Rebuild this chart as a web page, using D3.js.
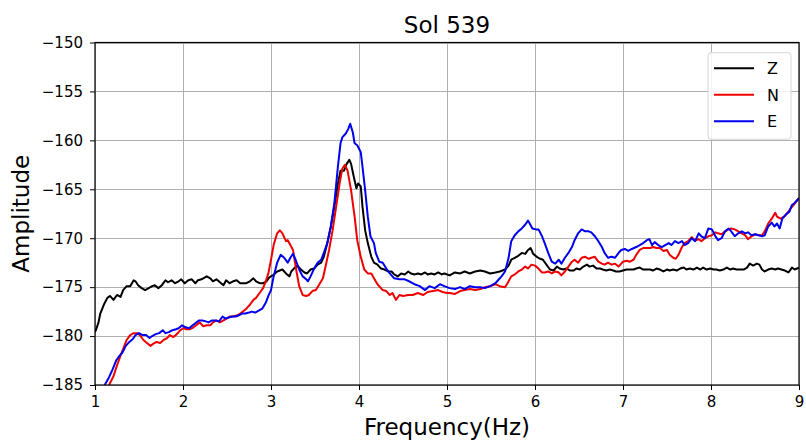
<!DOCTYPE html>
<html>
<head>
<meta charset="utf-8">
<script src="https://cdn.jsdelivr.net/npm/d3@7"></script>
<style>
  body { margin: 0; background: #fff; }
  svg { display: block; font-family: "DejaVu Sans", sans-serif; }
</style>
</head>
<body>
<svg id="chart" width="806" height="447"></svg>
<script>
// ---- data ----
const title = "Sol 539";
const xLabel = "Frequency(Hz)";
const yLabel = "Amplitude";
const xTicks = [1, 2, 3, 4, 5, 6, 7, 8, 9];
const yTicks = [-185, -180, -175, -170, -165, -160, -155, -150];
const seriesNames = ["Z", "N", "E"];
const seriesColors = ["#000000", "#ee0000", "#0000ee"];

const seriesZ = [
[1.00,-179.6],[1.01,-179.4],[1.04,-178.6],[1.06,-177.7],[1.10,-176.8],[1.14,-176.1],[1.17,-175.9],[1.21,-176.3],
[1.25,-175.8],[1.29,-176.0],[1.32,-175.3],[1.36,-174.9],[1.40,-174.9],[1.44,-174.3],[1.46,-174.4],[1.49,-174.8],
[1.53,-175.1],[1.57,-175.3],[1.61,-175.1],[1.65,-174.9],[1.68,-174.8],[1.72,-175.1],[1.76,-174.8],[1.80,-174.3],
[1.83,-174.5],[1.87,-174.3],[1.91,-174.6],[1.95,-174.4],[1.98,-174.2],[2.02,-174.6],[2.06,-174.3],[2.10,-174.2],
[2.14,-174.6],[2.17,-174.3],[2.21,-174.2],[2.27,-173.9],[2.31,-174.1],[2.34,-174.4],[2.38,-174.2],[2.42,-174.5],
[2.46,-174.8],[2.49,-174.3],[2.53,-174.6],[2.57,-174.4],[2.61,-174.3],[2.65,-174.6],[2.68,-174.6],[2.72,-174.6],
[2.76,-174.4],[2.80,-174.1],[2.83,-174.4],[2.87,-174.6],[2.91,-174.6],[2.95,-174.4],[2.98,-174.0],[3.02,-173.8],
[3.07,-173.4],[3.13,-173.2],[3.17,-173.6],[3.21,-173.9],[3.23,-173.4],[3.26,-173.1],[3.30,-172.8],[3.34,-173.2],
[3.38,-173.5],[3.41,-173.6],[3.45,-173.2],[3.49,-173.1],[3.53,-172.7],[3.57,-172.5],[3.60,-171.9],[3.64,-170.5],
[3.68,-168.8],[3.72,-166.8],[3.76,-164.4],[3.79,-163.1],[3.83,-163.1],[3.86,-162.4],[3.89,-162.0],[3.91,-162.4],
[3.94,-163.7],[3.97,-164.9],[3.99,-164.4],[4.02,-164.7],[4.04,-166.8],[4.07,-169.2],[4.10,-170.5],[4.14,-171.9],
[4.17,-172.5],[4.21,-172.7],[4.25,-173.1],[4.29,-173.2],[4.33,-173.4],[4.37,-173.4],[4.40,-173.7],[4.44,-173.9],
[4.48,-173.6],[4.52,-173.7],[4.56,-173.4],[4.59,-173.6],[4.63,-173.7],[4.67,-173.6],[4.71,-173.7],[4.75,-173.5],
[4.78,-173.7],[4.82,-173.6],[4.86,-173.7],[4.90,-173.5],[4.94,-173.7],[4.97,-173.6],[5.03,-173.8],[5.09,-173.5],
[5.15,-173.6],[5.20,-173.4],[5.26,-173.6],[5.32,-173.4],[5.38,-173.3],[5.43,-173.4],[5.49,-173.6],[5.55,-173.5],
[5.60,-173.4],[5.66,-173.2],[5.70,-172.8],[5.73,-172.2],[5.77,-172.0],[5.81,-171.8],[5.85,-171.5],[5.89,-171.6],
[5.92,-171.2],[5.95,-171.0],[5.98,-171.6],[6.02,-171.9],[6.06,-172.1],[6.09,-172.2],[6.13,-172.7],[6.17,-173.2],
[6.21,-173.3],[6.25,-172.9],[6.28,-173.1],[6.32,-173.2],[6.36,-173.1],[6.40,-173.3],[6.44,-173.3],[6.47,-173.1],
[6.51,-173.2],[6.55,-172.9],[6.59,-172.7],[6.62,-172.9],[6.66,-172.8],[6.70,-173.1],[6.74,-173.1],[6.77,-173.2],
[6.81,-173.3],[6.85,-173.2],[6.89,-173.3],[6.92,-173.4],[6.96,-173.4],[7.00,-173.3],[7.04,-173.2],[7.08,-173.2],
[7.12,-173.2],[7.15,-173.1],[7.19,-173.0],[7.23,-173.2],[7.27,-173.2],[7.31,-173.2],[7.34,-173.3],[7.38,-173.1],
[7.42,-173.2],[7.46,-173.4],[7.50,-173.2],[7.53,-173.3],[7.57,-173.2],[7.61,-173.3],[7.65,-173.1],[7.69,-173.0],
[7.72,-173.2],[7.76,-173.1],[7.80,-173.2],[7.84,-173.0],[7.88,-173.2],[7.91,-173.0],[7.95,-173.2],[7.99,-173.1],
[8.03,-173.2],[8.06,-173.2],[8.10,-173.3],[8.14,-173.2],[8.18,-173.0],[8.22,-173.2],[8.25,-173.1],[8.29,-173.2],
[8.33,-173.2],[8.37,-173.2],[8.41,-173.0],[8.44,-172.6],[8.48,-172.8],[8.52,-172.6],[8.55,-172.7],[8.58,-173.2],
[8.61,-173.4],[8.65,-173.2],[8.69,-173.1],[8.73,-173.2],[8.76,-173.1],[8.80,-173.2],[8.84,-173.3],[8.88,-173.5],
[8.92,-173.0],[8.95,-173.2],[9.00,-173.0]
];

const seriesN = [
[1.16,-185.0],[1.21,-184.1],[1.25,-183.0],[1.29,-182.0],[1.32,-181.3],[1.36,-180.4],[1.40,-179.9],[1.44,-179.7],
[1.48,-179.7],[1.51,-179.9],[1.55,-180.4],[1.59,-180.7],[1.63,-181.0],[1.66,-180.8],[1.70,-180.6],[1.74,-180.7],
[1.78,-180.4],[1.82,-180.2],[1.85,-179.9],[1.89,-180.1],[1.93,-179.8],[1.97,-179.4],[2.00,-179.2],[2.04,-179.3],
[2.08,-179.3],[2.12,-179.1],[2.15,-178.9],[2.19,-178.6],[2.23,-179.0],[2.27,-178.9],[2.31,-178.9],[2.34,-178.6],
[2.38,-178.4],[2.42,-178.6],[2.46,-178.4],[2.50,-178.2],[2.53,-178.0],[2.57,-178.0],[2.61,-177.9],[2.65,-177.7],
[2.68,-177.5],[2.72,-177.2],[2.76,-176.8],[2.80,-176.3],[2.83,-176.1],[2.87,-175.6],[2.91,-175.1],[2.94,-174.4],
[2.97,-173.6],[3.00,-172.2],[3.03,-170.7],[3.07,-169.5],[3.10,-169.2],[3.13,-169.5],[3.17,-170.3],[3.19,-170.2],
[3.22,-170.7],[3.25,-171.2],[3.28,-172.9],[3.32,-174.9],[3.36,-175.8],[3.40,-175.9],[3.43,-175.8],[3.47,-175.4],
[3.51,-175.3],[3.55,-174.7],[3.59,-174.1],[3.62,-172.9],[3.66,-171.2],[3.70,-169.2],[3.74,-166.8],[3.78,-164.4],
[3.81,-162.9],[3.84,-162.5],[3.87,-163.1],[3.91,-165.1],[3.95,-167.8],[3.98,-170.2],[4.02,-171.9],[4.06,-173.2],
[4.10,-173.6],[4.14,-173.6],[4.17,-174.1],[4.21,-174.7],[4.27,-175.3],[4.31,-175.4],[4.35,-175.8],[4.38,-175.6],
[4.42,-176.3],[4.46,-175.8],[4.50,-175.9],[4.56,-175.8],[4.61,-175.8],[4.67,-175.6],[4.73,-175.8],[4.78,-175.5],
[4.84,-175.4],[4.90,-175.3],[4.95,-175.5],[5.00,-175.6],[5.03,-175.6],[5.09,-175.7],[5.15,-175.4],[5.20,-175.3],
[5.26,-175.2],[5.32,-175.3],[5.38,-175.2],[5.43,-175.0],[5.49,-174.9],[5.55,-174.7],[5.60,-174.9],[5.66,-175.0],
[5.70,-174.4],[5.73,-173.9],[5.77,-173.7],[5.81,-173.4],[5.85,-173.2],[5.89,-172.9],[5.92,-173.1],[5.96,-172.7],
[6.00,-172.8],[6.04,-173.1],[6.08,-173.5],[6.11,-173.5],[6.15,-173.4],[6.19,-173.6],[6.23,-173.4],[6.27,-173.5],
[6.30,-173.8],[6.34,-173.4],[6.38,-172.9],[6.42,-172.4],[6.45,-172.2],[6.49,-172.5],[6.53,-172.0],[6.57,-171.9],
[6.61,-172.1],[6.64,-172.0],[6.68,-171.9],[6.72,-172.4],[6.76,-172.6],[6.79,-172.7],[6.83,-172.5],[6.87,-172.7],
[6.91,-172.6],[6.95,-172.9],[7.00,-172.4],[7.04,-172.3],[7.08,-172.4],[7.12,-172.2],[7.15,-171.7],[7.19,-171.2],
[7.23,-171.0],[7.27,-171.0],[7.31,-171.0],[7.34,-170.9],[7.38,-171.0],[7.42,-171.0],[7.46,-171.3],[7.50,-171.2],
[7.53,-171.7],[7.57,-172.0],[7.60,-172.1],[7.63,-171.7],[7.67,-170.9],[7.70,-170.5],[7.74,-170.3],[7.78,-169.9],
[7.82,-170.2],[7.86,-170.1],[7.89,-170.3],[7.93,-170.0],[7.97,-169.8],[8.01,-169.7],[8.05,-169.4],[8.08,-169.5],
[8.12,-169.6],[8.16,-169.3],[8.20,-169.1],[8.23,-169.0],[8.27,-169.1],[8.31,-169.3],[8.35,-169.5],[8.39,-169.7],
[8.42,-170.1],[8.46,-169.8],[8.50,-169.6],[8.54,-169.7],[8.58,-169.7],[8.61,-169.3],[8.65,-168.5],[8.69,-168.0],
[8.73,-167.4],[8.75,-167.8],[8.79,-168.0],[8.83,-167.8],[8.87,-167.4],[8.91,-166.9],[8.94,-166.6],[9.00,-165.9]
];

const seriesE = [
[1.11,-185.0],[1.16,-184.2],[1.20,-183.4],[1.24,-182.5],[1.28,-182.0],[1.31,-181.7],[1.35,-181.0],[1.39,-180.6],
[1.43,-180.3],[1.46,-179.9],[1.50,-179.7],[1.54,-179.9],[1.58,-179.9],[1.62,-180.2],[1.65,-180.0],[1.69,-179.8],
[1.73,-179.7],[1.77,-179.4],[1.80,-179.7],[1.84,-179.6],[1.88,-179.4],[1.92,-179.3],[1.95,-179.2],[1.99,-178.9],
[2.03,-179.1],[2.07,-179.2],[2.11,-178.9],[2.14,-178.7],[2.18,-178.4],[2.22,-178.4],[2.26,-178.5],[2.29,-178.6],
[2.33,-178.4],[2.37,-178.4],[2.41,-178.5],[2.45,-178.0],[2.48,-178.2],[2.52,-178.1],[2.56,-178.0],[2.60,-178.0],
[2.63,-177.9],[2.67,-177.7],[2.71,-177.7],[2.75,-177.6],[2.78,-177.5],[2.82,-177.6],[2.86,-177.4],[2.90,-177.2],
[2.94,-176.6],[2.97,-175.9],[3.00,-175.3],[3.03,-173.9],[3.07,-172.5],[3.11,-171.7],[3.15,-172.0],[3.19,-172.5],
[3.22,-172.0],[3.25,-171.6],[3.28,-172.2],[3.32,-173.2],[3.36,-173.9],[3.40,-174.2],[3.42,-174.4],[3.45,-173.9],
[3.49,-173.1],[3.53,-172.5],[3.57,-172.2],[3.60,-171.5],[3.64,-170.5],[3.68,-168.8],[3.72,-166.4],[3.76,-162.7],
[3.79,-160.3],[3.81,-159.7],[3.85,-159.3],[3.88,-158.8],[3.90,-158.3],[3.93,-159.2],[3.95,-160.3],[3.98,-160.5],
[4.02,-161.2],[4.04,-162.7],[4.07,-165.1],[4.10,-167.8],[4.13,-169.8],[4.17,-170.5],[4.19,-171.5],[4.23,-172.4],
[4.27,-172.5],[4.31,-173.1],[4.35,-173.6],[4.40,-174.1],[4.46,-174.2],[4.52,-174.2],[4.57,-174.4],[4.63,-174.7],
[4.69,-174.9],[4.75,-175.3],[4.80,-174.9],[4.86,-175.1],[4.92,-174.7],[4.97,-174.9],[5.03,-175.1],[5.09,-175.2],
[5.15,-175.0],[5.20,-175.2],[5.26,-174.9],[5.32,-175.0],[5.38,-175.0],[5.43,-175.1],[5.49,-174.9],[5.55,-174.6],
[5.58,-174.3],[5.62,-173.9],[5.66,-173.4],[5.70,-172.0],[5.73,-170.3],[5.77,-169.7],[5.81,-169.3],[5.85,-169.0],
[5.89,-168.6],[5.92,-168.2],[5.94,-168.5],[5.97,-169.0],[6.01,-169.1],[6.04,-169.1],[6.08,-169.8],[6.11,-170.5],
[6.15,-171.5],[6.19,-172.4],[6.23,-172.6],[6.27,-172.2],[6.30,-172.6],[6.34,-172.0],[6.38,-171.5],[6.42,-170.9],
[6.45,-170.2],[6.49,-169.5],[6.53,-169.1],[6.57,-169.3],[6.61,-169.3],[6.64,-169.4],[6.68,-169.8],[6.72,-170.3],
[6.76,-170.9],[6.79,-171.5],[6.83,-172.0],[6.87,-171.9],[6.91,-172.0],[6.95,-171.5],[6.98,-171.2],[7.02,-171.1],
[7.06,-171.3],[7.10,-171.1],[7.15,-170.9],[7.19,-170.7],[7.23,-170.5],[7.27,-170.2],[7.30,-170.1],[7.33,-170.7],
[7.36,-170.4],[7.40,-170.7],[7.44,-170.9],[7.48,-170.7],[7.52,-170.5],[7.55,-170.7],[7.59,-170.3],[7.63,-170.5],
[7.67,-170.3],[7.70,-170.7],[7.74,-170.5],[7.78,-170.0],[7.82,-170.3],[7.86,-169.5],[7.89,-169.8],[7.93,-170.0],
[7.97,-169.0],[8.01,-169.1],[8.05,-169.8],[8.08,-170.2],[8.12,-170.0],[8.16,-169.3],[8.20,-169.0],[8.23,-169.3],
[8.27,-169.8],[8.31,-169.5],[8.35,-169.3],[8.39,-169.5],[8.42,-169.4],[8.46,-169.7],[8.50,-169.6],[8.54,-169.7],
[8.58,-169.8],[8.61,-169.7],[8.65,-168.8],[8.69,-168.4],[8.72,-168.8],[8.75,-168.5],[8.78,-169.0],[8.81,-168.0],
[8.85,-167.6],[8.89,-167.3],[8.92,-166.6],[8.95,-166.4],[9.00,-165.9]
];

// ---- layout ----
const W = 806, H = 447;
const plot = { left: 95, right: 799, top: 42.5, bottom: 385 };
const svg = d3.select("#chart");

const x = d3.scaleLinear().domain([1, 9]).range([plot.left, plot.right]);
const y = d3.scaleLinear().domain([-185, -150]).range([plot.bottom, plot.top]);

svg.append("rect").attr("width", W).attr("height", H).attr("fill", "#fff");

// grid
const grid = svg.append("g").attr("stroke", "#b0b0b0").attr("stroke-width", 1);
grid.selectAll("line.gx").data(xTicks).join("line")
  .attr("x1", d => Math.round(x(d)) + 0.5).attr("x2", d => Math.round(x(d)) + 0.5)
  .attr("y1", plot.top).attr("y2", plot.bottom);
grid.selectAll("line.gy").data(yTicks).join("line")
  .attr("y1", d => Math.round(y(d)) + 0.5).attr("y2", d => Math.round(y(d)) + 0.5)
  .attr("x1", plot.left).attr("x2", plot.right);

// clip
svg.append("clipPath").attr("id", "clip").append("rect")
  .attr("x", plot.left).attr("y", plot.top)
  .attr("width", plot.right - plot.left).attr("height", plot.bottom - plot.top);

const line = d3.line().x(d => x(d[0])).y(d => y(d[1]));
const allSeries = [seriesZ, seriesN, seriesE];
svg.append("g").attr("clip-path", "url(#clip)")
  .selectAll("path").data(allSeries).join("path")
  .attr("d", line)
  .attr("fill", "none")
  .attr("stroke", (d, i) => seriesColors[i])
  .attr("stroke-width", 2)
  .attr("stroke-linejoin", "round");

// axes
const fmt = d3.format("d");
const xAxis = svg.append("g").attr("transform", `translate(0,${plot.bottom})`)
  .call(d3.axisBottom(x).tickValues(xTicks).tickFormat(fmt).tickSize(5).tickPadding(6));
const yAxis = svg.append("g").attr("transform", `translate(${plot.left},0)`)
  .call(d3.axisLeft(y).tickValues(yTicks).tickFormat(fmt).tickSize(5).tickPadding(7));
[xAxis, yAxis].forEach(a => {
  a.select(".domain").remove();
  a.selectAll("text").attr("font-size", 15).attr("font-family", "DejaVu Sans").attr("fill", "#000");
  a.selectAll("line").attr("stroke", "#000").attr("stroke-width", 1);
});

// frame
svg.append("rect")
  .attr("x", plot.left).attr("y", plot.top)
  .attr("width", plot.right - plot.left).attr("height", plot.bottom - plot.top)
  .attr("fill", "none").attr("stroke", "#000").attr("stroke-width", 1.2);

// title & labels
svg.append("text").attr("x", (plot.left + plot.right) / 2).attr("y", 33)
  .attr("text-anchor", "middle").attr("font-size", 23).text(title);
svg.append("text").attr("x", (plot.left + plot.right) / 2).attr("y", 435)
  .attr("text-anchor", "middle").attr("font-size", 23).text(xLabel);
svg.append("text")
  .attr("transform", `translate(28.5,${(plot.top + plot.bottom) / 2}) rotate(-90)`)
  .attr("text-anchor", "middle").attr("font-size", 23).text(yLabel);

// legend
const lg = svg.append("g");
lg.append("rect").attr("x", 708).attr("y", 52.7).attr("width", 83).attr("height", 86.5)
  .attr("rx", 3).attr("fill", "#fff").attr("fill-opacity", 0.85)
  .attr("stroke", "#d5d5d5").attr("stroke-width", 1);
const items = lg.selectAll("g.item").data(seriesNames).join("g")
  .attr("transform", (d, i) => `translate(0,${68.3 + i * 26.5})`);
items.append("line").attr("x1", 714).attr("x2", 754).attr("y1", 0).attr("y2", 0)
  .attr("stroke", (d, i) => seriesColors[i]).attr("stroke-width", 2);
items.append("text").attr("x", 767).attr("y", 6).attr("font-size", 16).text(d => d);
</script>
</body>
</html>
